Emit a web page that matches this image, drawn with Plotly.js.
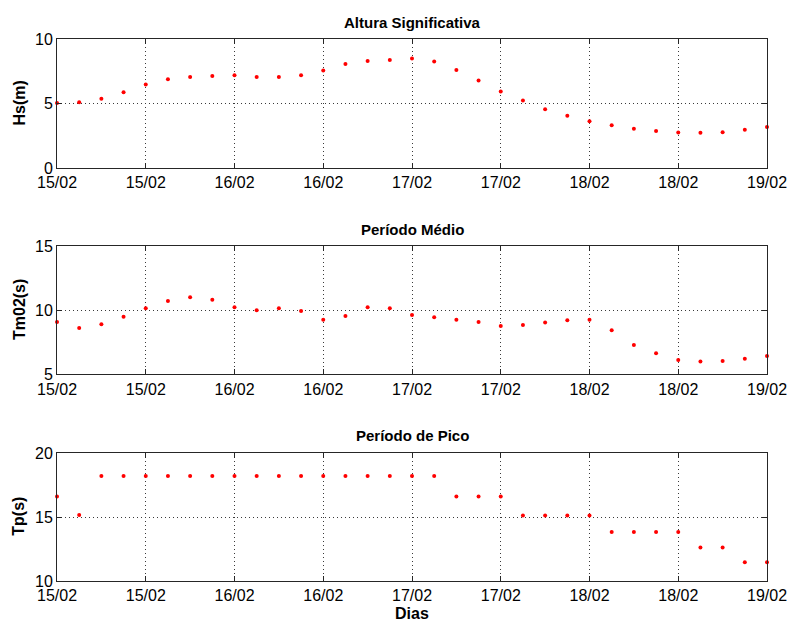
<!DOCTYPE html>
<html>
<head>
<meta charset="utf-8">
<script src="https://cdn.plot.ly/plotly-3.0.1.min.js"></script>
<style>html,body{margin:0;padding:0;background:#fff;}#chart{width:791px;height:621px;}</style>
</head>
<body>
<div id="chart"></div>
<script>
const times = [
  "2008-02-15 00:00","2008-02-15 03:00","2008-02-15 06:00","2008-02-15 09:00",
  "2008-02-15 12:00","2008-02-15 15:00","2008-02-15 18:00","2008-02-15 21:00",
  "2008-02-16 00:00","2008-02-16 03:00","2008-02-16 06:00","2008-02-16 09:00",
  "2008-02-16 12:00","2008-02-16 15:00","2008-02-16 18:00","2008-02-16 21:00",
  "2008-02-17 00:00","2008-02-17 03:00","2008-02-17 06:00","2008-02-17 09:00",
  "2008-02-17 12:00","2008-02-17 15:00","2008-02-17 18:00","2008-02-17 21:00",
  "2008-02-18 00:00","2008-02-18 03:00","2008-02-18 06:00","2008-02-18 09:00",
  "2008-02-18 12:00","2008-02-18 15:00","2008-02-18 18:00","2008-02-18 21:00",
  "2008-02-19 00:00"
];
const hs = [5.03,5.10,5.36,5.88,6.47,6.88,7.06,7.14,7.19,7.06,7.06,7.19,7.55,8.07,8.30,8.38,
            8.48,8.25,7.60,6.78,5.93,5.23,4.56,4.05,3.63,3.32,3.04,2.86,2.76,2.73,2.78,2.96,3.17];
const tm02 = [9.08,8.61,8.90,9.49,10.14,10.71,11.00,10.82,10.22,9.99,10.14,9.94,9.26,9.55,10.22,10.14,
              9.62,9.44,9.26,9.08,8.77,8.84,9.03,9.21,9.26,8.43,7.29,6.64,6.12,5.99,6.04,6.22,6.43];
const tp = [16.6,15.15,18.2,18.2,18.2,18.2,18.2,18.2,18.2,18.2,18.2,18.2,18.2,18.2,18.2,18.2,
            18.2,18.2,16.6,16.6,16.6,15.12,15.12,15.12,15.12,13.82,13.82,13.82,13.82,12.62,12.62,11.47,11.47];
const titles = ["Altura Significativa","Período Médio","Período de Pico"];
const yTitles = ["Hs(m)","Tm02(s)","Tp(s)"];
const xTitle = "Dias";

const FONT = "Liberation Sans, Arial, Helvetica, sans-serif";
const LINE = "#262626";
const GRID = "#3a3a3a";

function trace(y, ax) {
  return {
    x: times, y: y, type: "scatter", mode: "markers",
    xaxis: "x" + ax, yaxis: "y" + ax,
    marker: {color: "#ff0000", size: 4, symbol: "circle"},
    cliponaxis: false, hoverinfo: "skip", showlegend: false
  };
}
function xax(anchor) {
  return {
    type: "date", anchor: anchor,
    range: ["2008-02-15 00:00", "2008-02-19 00:00"],
    tick0: "2008-02-15 00:00", dtick: 43200000, tickformat: "%d/%m",
    showline: true, mirror: "ticks", linecolor: LINE, linewidth: 1,
    ticks: "inside", ticklen: 5, tickcolor: LINE,
    showgrid: true, gridcolor: GRID, griddash: "1px,3px", gridwidth: 1,
    zeroline: false, tickfont: {size: 16, color: "#000", family: FONT},
    fixedrange: true
  };
}
function yax(anchor, domain, range, dtick) {
  return {
    anchor: anchor, domain: domain, range: range, dtick: dtick, tick0: 0,
    showline: true, mirror: "ticks", linecolor: LINE, linewidth: 1,
    ticks: "inside", ticklen: 5, tickcolor: LINE,
    showgrid: true, gridcolor: GRID, griddash: "1px,3px", gridwidth: 1,
    zeroline: false, tickfont: {size: 16, color: "#000", family: FONT},
    fixedrange: true
  };
}

const H = 542; // plot area height in px (621 - 39 - 40)
function py(p) { return (581 - p) / H; }

const data = [trace(hs, ""), trace(tm02, "2"), trace(tp, "3")];
const layout = {
  width: 791, height: 621,
  margin: {l: 57, r: 24, t: 39, b: 40},
  paper_bgcolor: "#fff", plot_bgcolor: "#fff",
  font: {family: FONT, color: "#000"},
  xaxis: xax("y"), xaxis2: xax("y2"), xaxis3: xax("y3"),
  yaxis: yax("x", [py(168), 1], [0, 10], 5),
  yaxis2: yax("x2", [py(374.3), py(246)], [5, 15], 5),
  yaxis3: yax("x3", [0, py(453)], [10, 20], 5),
  annotations: [
    {text: "<b>" + titles[0] + "</b>", xref: "paper", yref: "paper", x: 0.5, y: py(22), xanchor: "center", yanchor: "middle", showarrow: false, font: {size: 15, family: FONT}},
    {text: "<b>" + titles[1] + "</b>", xref: "paper", yref: "paper", x: 0.5, y: py(229), xanchor: "center", yanchor: "middle", showarrow: false, font: {size: 15, family: FONT}},
    {text: "<b>" + titles[2] + "</b>", xref: "paper", yref: "paper", x: 0.5, y: py(435), xanchor: "center", yanchor: "middle", showarrow: false, font: {size: 15, family: FONT}},
    {text: "<b>" + yTitles[0] + "</b>", xref: "paper", yref: "paper", x: (19 - 57) / 710, y: py(103.5), xanchor: "center", yanchor: "middle", textangle: -90, showarrow: false, font: {size: 16, family: FONT}},
    {text: "<b>" + yTitles[1] + "</b>", xref: "paper", yref: "paper", x: (19 - 57) / 710, y: py(310), xanchor: "center", yanchor: "middle", textangle: -90, showarrow: false, font: {size: 16, family: FONT}},
    {text: "<b>" + yTitles[2] + "</b>", xref: "paper", yref: "paper", x: (19 - 57) / 710, y: py(516.7), xanchor: "center", yanchor: "middle", textangle: -90, showarrow: false, font: {size: 16, family: FONT}},
    {text: "<b>" + xTitle + "</b>", xref: "paper", yref: "paper", x: 0.5, y: py(613), xanchor: "center", yanchor: "middle", showarrow: false, font: {size: 16, family: FONT}}
  ]
};
Plotly.newPlot("chart", data, layout, {displayModeBar: false, staticPlot: true});
</script>
</body>
</html>
